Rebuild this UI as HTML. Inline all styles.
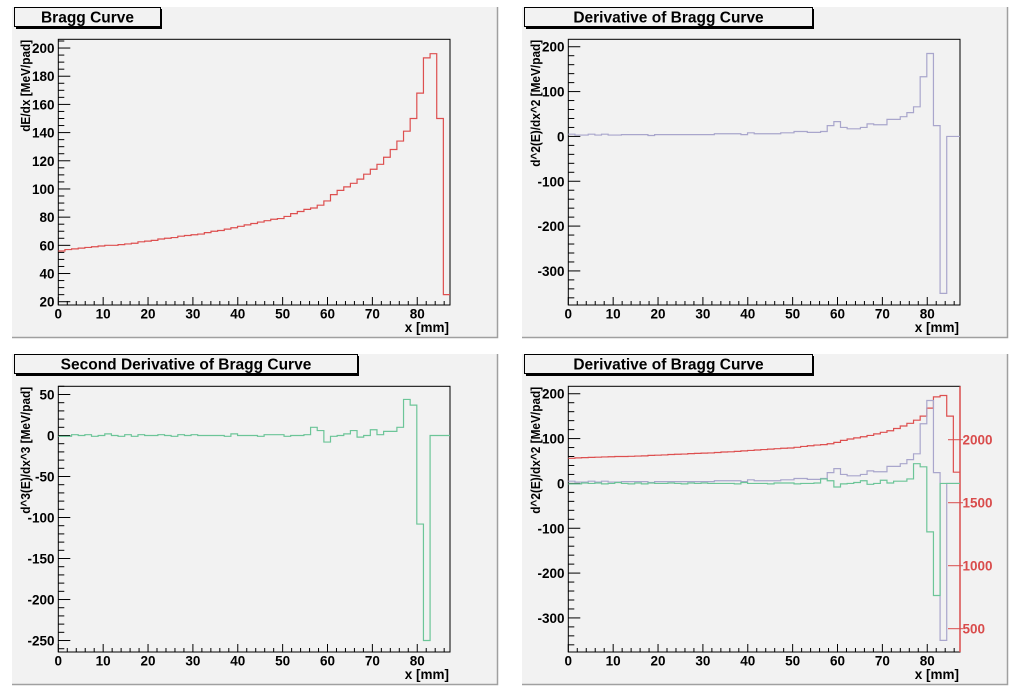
<!DOCTYPE html>
<html><head><meta charset="utf-8"><title>Bragg Curve</title>
<style>
html,body{margin:0;padding:0;background:#fff;}
svg{display:block;font-family:"Liberation Sans",Arial,sans-serif;font-weight:bold;}
</style></head>
<body>
<svg id="c" width="1020" height="694" viewBox="0 0 1020 694" xmlns="http://www.w3.org/2000/svg"></svg>
<script>
// ---- data ----
const xMin = 0, xMax = 87.3;
const bragg = [56,57,57.5,58,58.5,59,59.5,60,60,60.5,61,61.5,62.5,63,63.5,64.5,65,65.5,66.5,67,67.5,68,69,70,70.5,71.5,72.5,73.5,74.5,75.5,76.5,77.5,78.5,79,80.5,82.5,84,85.5,86.5,88.5,91.5,96,99,101.5,104,107,110.5,114,117.5,122.5,128,134,141,150,168,193,196,150,25];
const deriv1 = [5,3,3,5,3,5,3,3,4,4,4,4,2,4,4,4,4,4,4,4,4,4,6,6,6,6,4,8,6,6,6,6,8,8,11,11,9,9,11,24,33,20,17,17,20,28,26,26,38,38,44,53,66,133,185,24,-350,0,0];
const deriv2 = [-1,-1,1,0,1,-1,0,2,0,-1,1,-1,1,0,0,1,0,-1,1,0,1,0,0,0,0,-1,2,0,0,0,-1,1,1,1,-1,0,0,1,10,6,-8,-1,0,2,6,-2,0,7,1,5,5,10,44,37,-108,-250,0,0,0];
const xTicks = [0,10,20,30,40,50,60,70,80];
const yTicksA = [20,40,60,80,100,120,140,160,180,200];
const yTicksB = [-300,-200,-100,0,100,200];
const yTicksC = [-250,-200,-150,-100,-50,0,50];
const rTicks = [500,1000,1500,2000];

const NS = "http://www.w3.org/2000/svg";
const svg = document.getElementById('c');
function mk(tag, attrs, parent, text){
  const e = document.createElementNS(NS, tag);
  for (const k in attrs) e.setAttribute(k, attrs[k]);
  if (text !== undefined) e.textContent = text;
  (parent || svg).appendChild(e);
  return e;
}
const FL = 58.3, FR = 450, FT = 39.3, FB = 305;

function pad(ox, oy, cfg){
  const g = mk('g', {transform:`translate(${ox},${oy})`});
  
  
  const bg = mk('rect', {x:12, y:7, width:486, height:331, fill:'#f2f2f2'}, g);
  
  
  mk('path', {d:'M12 337.5 H497.5 V7', stroke:'#a0a0a0', 'stroke-width':1.5, fill:'none'}, g);
  const fr = mk('rect', {x:FL, y:FT, width:FR-FL, height:FB-FT, fill:'#f2f2f2', stroke:'#000', 'stroke-width':1}, g);
  
  
  const sx = v => FL + (v - xMin) / (xMax - xMin) * (FR - FL);
  const sy = v => FB - (v - cfg.yMin) / (cfg.yMax - cfg.yMin) * (FB - FT);
  for (let v = 0; v <= xMax + 1e-6; v += 2) {
    const major = Math.abs(v % 10) < 1e-6;
    mk('line', {x1:sx(v), x2:sx(v), y1:FB, y2:FB - (major ? 8 : 4), stroke:'#000', 'stroke-width':1}, g);
  }
  xTicks.forEach(v => {
    const t = mk('text', {x:sx(v), y:318.5, 'font-size':13.5, 'text-anchor':'middle'}, g, String(v));
    
    
  });
  const xt = mk('text', {x:449, y:332, 'font-size':13.5, 'text-anchor':'end'}, g, 'x [mm]');
  
  
  const ys = cfg.yTicks, step = (ys[1]-ys[0]) / cfg.nSub;
  for (let v = ys[0] - step * cfg.nSub; v <= cfg.yMax; v += step) {
    if (v < cfg.yMin) continue;
    const major = ys.some(t => Math.abs(t - v) < 1e-6);
    mk('line', {x1:FL, x2:FL + (major ? 12 : 6), y1:sy(v), y2:sy(v), stroke:'#000', 'stroke-width':1}, g);
  }
  ys.forEach(v => {
    const t = mk('text', {x:54.5, y:sy(v) + 5, 'font-size':13.5, 'text-anchor':'end'}, g, String(v));
    
    
  });
  const yt = mk('text', {x:-(FT + 0.5 + cfg.ytLen), y:0, 'font-size':13, textLength:cfg.ytLen, lengthAdjust:'spacingAndGlyphs', transform:`translate(30,0) rotate(-90)`}, g, cfg.yTitle);
  
  
  if (cfg.right) {
    const r = cfg.right;
    const ry = v => FB - (v - r.min) / (r.max - r.min) * (FB - FT);
    mk('line', {x1:FR, x2:FR, y1:FT, y2:FB, stroke:'#d94c4c', 'stroke-width':1.5}, g);
    rTicks.forEach(v => {
      mk('line', {x1:FR - 12, x2:FR + 3, y1:ry(v), y2:ry(v), stroke:'#d94c4c', 'stroke-width':1}, g);
      const t = mk('text', {x:FR + 2.5, y:ry(v) + 5, 'font-size':13.5, fill:'#d94c4c'}, g, String(v));
      
      
    });
  }
  const w = (xMax - xMin) / bragg.length;
  cfg.series.forEach(s => {
    let d = '';
    s.data.forEach((v, i) => {
      const x0 = sx(xMin + i * w), x1 = sx(xMin + (i + 1) * w), y = sy(v);
      d += (i === 0 ? `M${x0} ${y}` : ` V${y}`) + ` H${x1}`;
    });
    const p = mk('path', {d, fill:'none', stroke:s.color, 'stroke-width':1.2}, g);
    
    
  });
  mk('rect', {x:16, y:9, width:cfg.tw, height:20, fill:'#000'}, g);
  const tb = mk('rect', {x:14.5, y:7.5, width:cfg.tw, height:19, fill:'#f2f2f2', stroke:'#000', 'stroke-width':1}, g);
  
  
  const tt = mk('text', {x:14.5 + cfg.tw/2, y:22.5, 'font-size':15.5, 'text-anchor':'middle'}, g, cfg.title);
  
  
}

const RED = '#dd4f4f', PURP = '#a9a6cc', GREEN = '#6cc598';
pad(0, 0, {name:'bragg-curve-pad', title:'Bragg Curve', tw:146, yMin:17.66, yMax:206.2, yTicks:yTicksA, nSub:4,
  yTitle:'dE/dx [MeV/pad]', ytLen:92, series:[{name:'bragg-series', data:bragg, color:RED}]});
pad(510, 0, {name:'derivative-pad', title:'Derivative of Bragg Curve', tw:288, yMin:-376, yMax:216.6, yTicks:yTicksB, nSub:5,
  yTitle:'d^2(E)/dx^2 [MeV/pad]', ytLen:127, series:[{name:'derivative-series', data:deriv1, color:PURP}]});
pad(0, 347, {name:'second-derivative-pad', title:'Second Derivative of Bragg Curve', tw:343, yMin:-264, yMax:60, yTicks:yTicksC, nSub:5,
  yTitle:'d^3(E)/dx^3 [MeV/pad]', ytLen:127, series:[{name:'second-derivative-series', data:deriv2, color:GREEN}]});
pad(510, 347, {name:'overlay-pad', title:'Derivative of Bragg Curve', tw:288, yMin:-376, yMax:216.6, yTicks:yTicksB, nSub:5,
  yTitle:'d^2(E)/dx^2 [MeV/pad]', ytLen:127, right:{min:315, max:2424},
  series:[{name:'overlay-bragg-series', data:bragg, color:RED},{name:'overlay-derivative-series', data:deriv1, color:PURP},{name:'overlay-second-derivative-series', data:deriv2, color:GREEN}]});
</script>
</body></html>
